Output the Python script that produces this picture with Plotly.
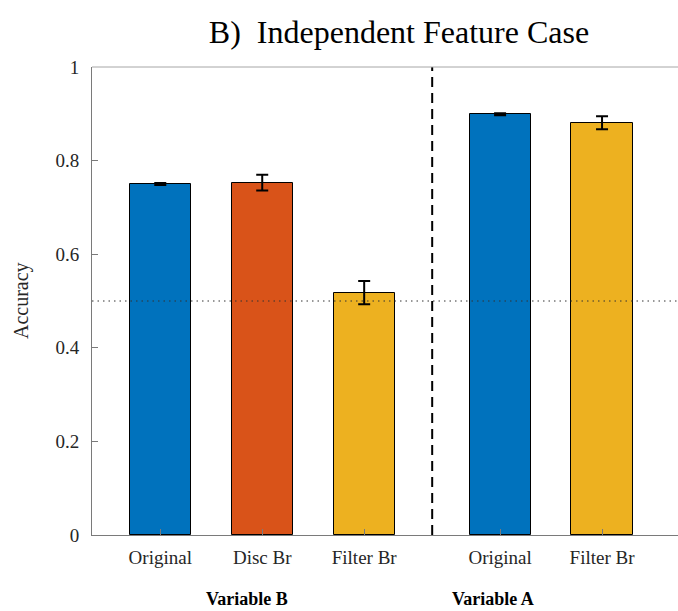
import plotly.graph_objects as go

# Bar data: accuracy means and error-bar half-widths
labels = ["Original", "Disc Br", "Filter Br", "Original", "Filter Br"]
positions = [1, 2, 3, 4.333, 5.333]
accuracy = [0.750, 0.753, 0.518, 0.899, 0.881]
errors = [0.002, 0.017, 0.025, 0.002, 0.014]
colors = ["#0072BD", "#D95319", "#EDB120", "#0072BD", "#EDB120"]
group_labels = ["Variable B", "Variable A"]
group_pos = [1.853, 4.265]
divider = 3.667
chance = 0.5
yticks = [0, 0.2, 0.4, 0.6, 0.8, 1]
ytick_text = ["0", "0.2", "0.4", "0.6", "0.8", "1"]

W, H = 678, 611
L, T, B = 92, 67, 76
plot_h = H - T - B

FONT = "Liberation Serif"
INK = "#262626"
AXIS = "#7a7a7a"

fig = go.Figure()
fig.add_trace(go.Bar(
    x=positions, y=accuracy, width=0.6,
    marker=dict(color=colors, line=dict(color="black", width=1)),
    error_y=dict(type="data", array=errors, color="black", thickness=2, width=6),
    showlegend=False,
))

# chance level, group divider and light top frame
fig.add_shape(type="line", xref="paper", x0=0, x1=1, yref="y", y0=chance, y1=chance,
              line=dict(color="#333333", width=1, dash="1.5px,4px"))
fig.add_shape(type="line", xref="x", x0=divider, x1=divider, yref="y", y0=0, y1=1,
              line=dict(color="black", width=2, dash="10px,6px"))
fig.add_shape(type="line", xref="paper", x0=0, x1=1, yref="paper", y0=1, y1=1,
              line=dict(color="#a6a6a6", width=1))

fig.update_xaxes(range=[0.3304, 6.078], tickvals=positions, ticktext=labels,
                 ticks="inside", ticklen=6, tickcolor=AXIS, tickwidth=1,
                 showline=True, linecolor=AXIS, linewidth=1,
                 showgrid=False, zeroline=False, ticklabelstandoff=5,
                 tickfont=dict(family=FONT, size=19, color=INK))
fig.update_yaxes(range=[0, 1], tickvals=yticks, ticktext=ytick_text,
                 ticks="inside", ticklen=6, tickcolor=AXIS, tickwidth=1,
                 showline=True, linecolor=AXIS, linewidth=1,
                 showgrid=False, zeroline=False, ticklabelstandoff=8,
                 tickfont=dict(family=FONT, size=19, color=INK))

annotations = [
    dict(text="Accuracy", xref="paper", yref="paper", x=(21 - L) / (W - L), y=0.5,
         xanchor="center", yanchor="middle", textangle=-90, showarrow=False,
         font=dict(family=FONT, size=20, color=INK)),
]
for name, pos in zip(group_labels, group_pos):
    annotations.append(dict(text="<b>%s</b>" % name, xref="x", yref="paper", x=pos,
                            y=(H - B - 599) / plot_h, xanchor="center", yanchor="middle",
                            showarrow=False, font=dict(family=FONT, size=18, color="black")))

fig.update_layout(width=W, height=H, margin=dict(l=L, r=0, t=T, b=B),
                  plot_bgcolor="white", paper_bgcolor="white",
                  font=dict(family=FONT),
                  title=dict(text="B)  Independent Feature Case", x=399 / W, xanchor="center",
                             y=1 - 32 / H, yanchor="middle", yref="container",
                             font=dict(family=FONT, size=32, color="black")),
                  annotations=annotations, bargap=0)

fig.write_html("out.html")
